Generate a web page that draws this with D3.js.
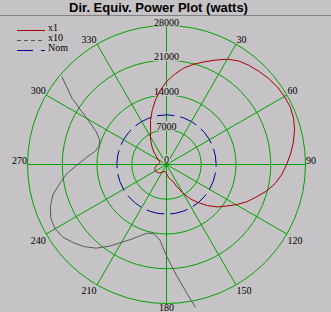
<!DOCTYPE html>
<html><head><meta charset="utf-8">
<script src="https://cdn.jsdelivr.net/npm/d3@7"></script>
<style>html,body{margin:0;padding:0;background:#c6c3c6;}svg{display:block;}</style>
</head><body><div id="chart"></div>
<script>
const title = "Dir. Equiv. Power Plot (watts)";
const radialTicks = [0, 7000, 14000, 21000, 28000];
const angleTicks = [30, 60, 90, 120, 150, 180, 210, 240, 270, 300, 330];
const spokeAngles = [0, 30, 60, 90, 120, 150, 180, 210, 240, 270, 300, 330];
const seriesNames = ["x1", "x10", "Nom"];

const x1Angles = [0,5,10,15,20,25,30,35,40,45,50,55,60,65,70,75,80,85,90,95,100,105,110,115,120,125,130,135,140,145,150,155,160,165,170,175,180,185,190,195,200,205,210,215,220,225,230,235,240,245,250,255,260,265,270,275,280,285,290,295,300,305,310,315,320,325,330,335,340,345,350,355];
const x1Values = [16700,18200,19700,20900,22000,23200,24500,25450,26000,26450,26900,27250,27420,27490,27250,26700,25950,25100,24200,23300,22200,20800,19200,17800,16200,14600,13300,11700,10050,8500,6700,4900,3500,3100,2750,2230,1840,1530,1420,1430,1520,1660,1810,2010,2200,2340,2450,2550,2590,2570,2490,2370,2180,2010,1790,1620,1470,1410,1430,1560,1850,2320,2750,3600,4470,5400,6500,7570,9400,11200,13080,14950];

const x10Angles = [168.5,170,175,180,185,190,195,200,205,210,215,220,225,230,235,240,245,250,255,260,265,270,275,280,285,290,295,300,305,310];
const x10Values = [29390,27500,22300,18400,15300,14200,14300,15200,16600,18100,20100,22000,23400,24500,25500,25900,25700,24900,23700,21800,20100,17900,16200,14700,14100,14300,15600,18500,23200,27500];

const nomAngles = [0,10,20,30,40,50,60,70,80,90,100,110,120,130,140,150,160,170,180,190,200,210,220,230,240,250,260,270,280,290,300,310,320,330,340,350,360];
const nomValues = [10000,10000,10000,10000,10000,10000,10000,10000,10000,10000,10000,10000,10000,10000,10000,10000,10000,10000,10000,10000,10000,10000,10000,10000,10000,10000,10000,10000,10000,10000,10000,10000,10000,10000,10000,10000,10000];

const W = 331, H = 312;
const cx = 166.5, cy = 164.5, R = 139;
const bg = "#c6c3c6", green = "#00a200", red = "#a50000", gray = "#5a595a", navy = "#00008c";
const serif = "'Liberation Serif','Times New Roman',serif";

const svg = d3.select("#chart").append("svg").attr("width", W).attr("height", H);
svg.append("rect").attr("width", W).attr("height", H).attr("fill", bg);

svg.append("text").attr("x", 158.5).attr("y", 12).attr("text-anchor", "middle")
  .attr("font-family", "'Liberation Sans',Arial,sans-serif").attr("font-weight", "bold")
  .attr("font-size", 13).attr("fill", "#000").text(title);
svg.append("line").attr("x1", 0).attr("x2", W).attr("y1", 15.5).attr("y2", 15.5)
  .attr("stroke", "#848284").attr("stroke-width", 1);

const r = d3.scaleLinear().domain([0, 28000]).range([0, R]);
const rad = d => d * Math.PI / 180;
const g = svg.append("g").attr("transform", `translate(${cx},${cy})`);

// grid circles
g.selectAll("circle.grid").data(radialTicks.filter(d => d > 0)).join("circle")
  .attr("r", d => r(d)).attr("fill", "none").attr("stroke", green).attr("stroke-width", 1);
// spokes
g.selectAll("line.spoke").data(spokeAngles).join("line")
  .attr("x1", 0).attr("y1", 0)
  .attr("x2", d => r(28000) * Math.sin(rad(d)))
  .attr("y2", d => -r(28000) * Math.cos(rad(d)))
  .attr("stroke", green).attr("stroke-width", 1);

// radial labels with background
const rl = g.selectAll("g.rl").data(radialTicks).join("g");
rl.each(function(d) {
  const sel = d3.select(this);
  const by = d === 0 ? -1.5 : -r(d);
  const t = sel.append("text").attr("x", 0).attr("y", by).attr("text-anchor", "middle")
    .attr("font-family", serif).attr("font-size", 10).attr("fill", "#000").text(d);
  const bb = t.node().getBBox();
  sel.insert("rect", "text").attr("x", bb.x - 1).attr("y", by - 8.5)
    .attr("width", bb.width + 2).attr("height", d === 0 ? 8.5 : 9.5).attr("fill", bg);
});

// angle labels
g.selectAll("text.al").data(angleTicks).join("text")
  .attr("font-family", serif).attr("font-size", 10).attr("fill", "#000")
  .attr("x", d => {
    const x = r(28000) * Math.sin(rad(d));
    return Math.abs(x) < 1 ? x : (x > 0 ? x + 0.5 : x - 0.5);
  })
  .attr("y", d => {
    const y = -r(28000) * Math.cos(rad(d));
    if (Math.abs(y) < 1) return -1;
    if (y > R - 1) return y + 7.5;
    return y < 0 ? y - 1.5 : y + 9.5;
  })
  .attr("text-anchor", d => {
    const x = Math.sin(rad(d));
    return Math.abs(x) < 1e-6 ? "middle" : (x > 0 ? "start" : "end");
  })
  .text(d => d);

const line = d3.lineRadial().angle(d => rad(d[0])).radius(d => r(d[1]));

g.append("path").datum(d3.zip(x10Angles, x10Values))
  .attr("d", line.curve(d3.curveLinear)).attr("fill", "none").attr("stroke", gray).attr("stroke-width", 1);

g.append("path").datum(d3.zip(nomAngles, nomValues))
  .attr("d", line.curve(d3.curveLinear)).attr("fill", "none").attr("stroke", navy)
  .attr("stroke-width", 1).attr("stroke-dasharray", "18,6").attr("stroke-dashoffset", 10);

g.append("path").datum(d3.zip(x1Angles, x1Values))
  .attr("d", line.curve(d3.curveLinearClosed)).attr("fill", "none").attr("stroke", red).attr("stroke-width", 1);

// legend
const legendColors = [red, gray, navy];
const legendDash = [null, "4,3", "16,8"];
const lg = svg.append("g");
seriesNames.forEach((name, i) => {
  const y = 30.5 + i * 10;
  lg.append("line").attr("x1", 17).attr("x2", 45).attr("y1", y).attr("y2", y)
    .attr("stroke", legendColors[i]).attr("stroke-width", 1)
    .attr("stroke-dasharray", legendDash[i]);
  lg.append("text").attr("x", 48).attr("y", y).attr("font-family", serif)
    .attr("font-size", 10).attr("fill", "#000").text(name);
});
</script></body></html>
